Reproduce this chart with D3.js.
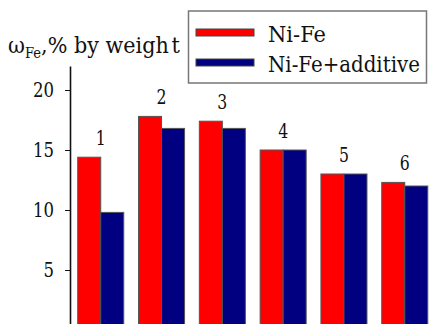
<!DOCTYPE html>
<html>
<head>
<meta charset="utf-8">
<script src="https://cdn.jsdelivr.net/npm/d3@7"></script>
<style>
  body { margin: 0; background: #fff; }
</style>
</head>
<body>
<script>
const groups = ["1", "2", "3", "4", "5", "6"];
const seriesNames = ["Ni-Fe", "Ni-Fe+additive"];
const niFe = [14.4, 17.8, 17.4, 15.0, 13.0, 12.3];
const niFeAdditive = [9.8, 16.8, 16.8, 15.0, 13.0, 12.0];
const yTicks = [5, 10, 15, 20];

const redColor = "#ff0000";
const blueColor = "#000080";
const serifFont = "DejaVu Serif";

var width = 430,
  height = 324;

var svg = d3
  .select("body")
  .append("svg")
  .attr("width", width)
  .attr("height", height)
  .style("display", "block");

var rows = groups.map((g, i) => ({ group: g, values: [niFe[i], niFeAdditive[i]] }));

var xScale = d3
  .scaleBand()
  .domain(groups)
  .range([70, 435.5])
  .paddingInner(0.243)
  .paddingOuter(0.127);

var xInner = d3
  .scaleBand()
  .domain(seriesNames)
  .range([0, xScale.bandwidth()]);

var yScale = d3.scaleLinear().domain([0, 22]).range([330, 66]);

var colors = d3.scaleOrdinal().domain(seriesNames).range([redColor, blueColor]);

// squeeze a text horizontally so it spans w pixels (Times-like width)
function squeeze(textSel, w) {
  var natural = textSel.node().getComputedTextLength();
  return natural > 0 ? w / natural : 1;
}

// bars
var groupSel = svg
  .selectAll(".grp")
  .data(rows)
  .enter()
  .append("g")
  .attr("class", "grp")
  .attr("transform", (d) => `translate(${xScale(d.group)},0)`);

groupSel
  .selectAll("rect")
  .data((d) => d.values.map((v, j) => ({ name: seriesNames[j], value: v })))
  .enter()
  .append("rect")
  .attr("x", (d) => xInner(d.name))
  .attr("y", (d) => yScale(d.value))
  .attr("width", xInner.bandwidth())
  .attr("height", (d) => yScale(0) - yScale(d.value))
  .style("fill", (d) => colors(d.name))
  .style("stroke", "#555")
  .style("stroke-width", "1px");

// group numbers above bars
groupSel
  .append("text")
  .text((d) => d.group)
  .attr("x", xScale.bandwidth() / 2)
  .attr("y", (d) => yScale(d3.max(d.values)) - 12.5)
  .attr("text-anchor", "middle")
  .attr("font-family", serifFont)
  .attr("textLength", 10)
  .attr("lengthAdjust", "spacingAndGlyphs")
  .style("font-size", "20px")
  .style("fill", "#111");

// y axis
var yAxis = d3
  .axisLeft(yScale)
  .tickValues(yTicks)
  .tickSize(5)
  .tickSizeOuter(0)
  .tickPadding(11);

var yG = svg
  .append("g")
  .attr("transform", "translate(70,0)")
  .call(yAxis)
  .attr("font-family", serifFont);

yG.select(".domain").attr("stroke", "#111").attr("stroke-width", 1.6);
yG.selectAll(".tick line").attr("stroke", "#111");
yG
  .selectAll(".tick text")
  .attr("textLength", (d) => String(d).length * 10.5)
  .attr("lengthAdjust", "spacingAndGlyphs")
  .style("font-size", "20px")
  .style("fill", "#111");

// y label
var yLabelG = svg.append("g");
var yLabel = yLabelG
  .append("text")
  .attr("x", 0)
  .attr("y", 0)
  .attr("font-family", serifFont)
  .style("font-size", "22px")
  .style("fill", "#111");
yLabel.append("tspan").text("ω");
yLabel.append("tspan").text("Fe").attr("dy", 5).style("font-size", "14px");
yLabel.append("tspan").text(",% by weigh").attr("dy", -5);
yLabel.append("tspan").text("t").attr("dx", 3);
yLabelG.attr("transform", `translate(8,53) scale(${172 / (yLabel.node().getComputedTextLength() + 3)},1)`);

// legend
var legend = svg.append("g");

legend
  .append("rect")
  .attr("x", 188.5)
  .attr("y", 11)
  .attr("width", 238)
  .attr("height", 72)
  .style("fill", "#fff")
  .style("stroke", "#777")
  .style("stroke-width", "1.5px");

var legendItem = legend
  .selectAll(".legend-item")
  .data(seriesNames)
  .enter()
  .append("g")
  .attr("class", "legend-item")
  .attr("transform", (d, i) => `translate(0, ${i * 30})`);

legendItem
  .append("rect")
  .attr("x", 196)
  .attr("y", 29)
  .attr("width", 58)
  .attr("height", 7)
  .style("fill", (d) => colors(d))
  .style("stroke", "#444")
  .style("stroke-width", "1px");

var legendWidths = [58, 152];
legendItem.each(function (d, i) {
  var g = d3.select(this).append("g");
  var t = g
    .append("text")
    .text(d)
    .attr("x", 0)
    .attr("y", 0)
    .attr("font-family", serifFont)
    .style("font-size", "23px")
    .style("fill", "#111");
  g.attr("transform", `translate(268,41.7) scale(${squeeze(t, legendWidths[i])},1)`);
});
</script>
</body>
</html>
